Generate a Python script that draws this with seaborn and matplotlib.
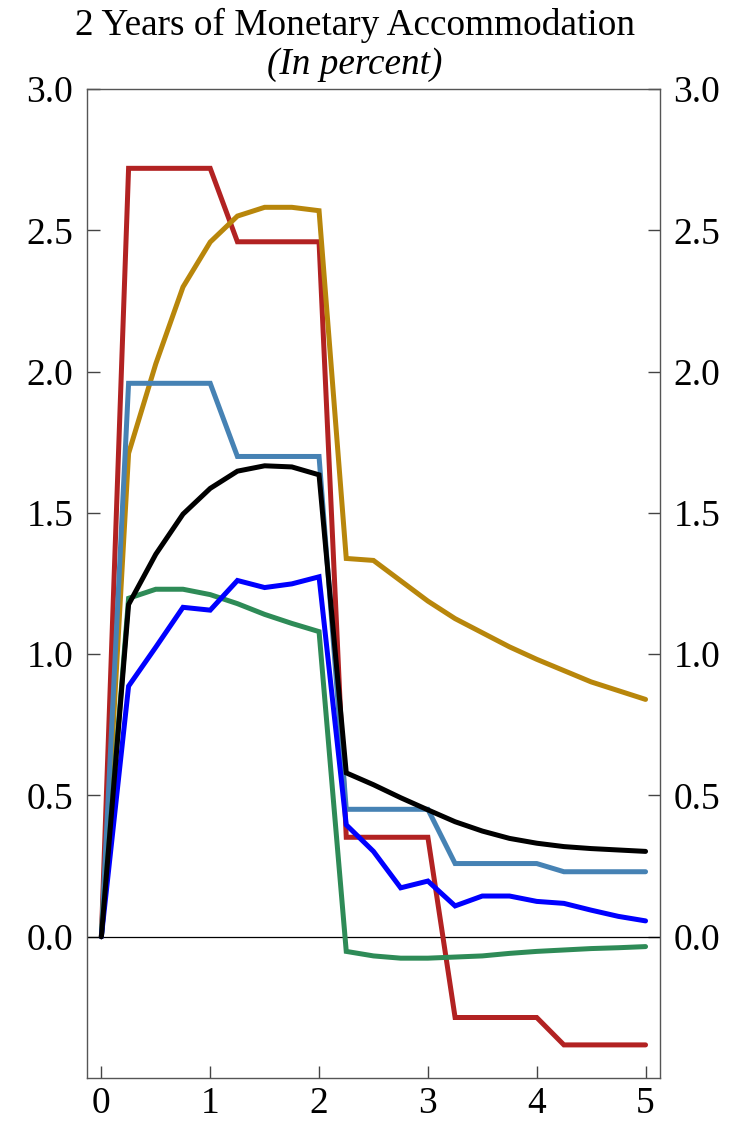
import numpy as np
import pandas as pd
import seaborn as sns
import matplotlib
matplotlib.use("Agg")
import matplotlib.pyplot as plt

x = [0, 0.25, 0.5, 0.75, 1.0, 1.25, 1.5, 1.75, 2.0, 2.25, 2.5, 2.75, 3.0,
     3.25, 3.5, 3.75, 4.0, 4.25, 4.5, 4.75, 5.0]

red = [0, 2.72, 2.72, 2.72, 2.72, 2.46, 2.46, 2.46, 2.46, 0.352, 0.352, 0.352, 0.352,
       -0.286, -0.286, -0.286, -0.286, -0.383, -0.383, -0.383, -0.383]
gold = [0, 1.711, 2.028, 2.30, 2.459, 2.551, 2.582, 2.582, 2.57, 1.339, 1.332, 1.26, 1.188,
        1.126, 1.076, 1.026, 0.982, 0.942, 0.902, 0.871, 0.84]
steel = [0, 1.959, 1.959, 1.959, 1.959, 1.70, 1.70, 1.70, 1.70, 0.451, 0.451, 0.451, 0.451,
         0.259, 0.259, 0.259, 0.259, 0.23, 0.23, 0.23, 0.23]
green = [0, 1.198, 1.23, 1.23, 1.211, 1.179, 1.141, 1.109, 1.08, -0.052, -0.068, -0.076, -0.076,
         -0.072, -0.068, -0.059, -0.052, -0.047, -0.042, -0.039, -0.035]
blue = [0, 0.887, 1.025, 1.166, 1.156, 1.261, 1.236, 1.249, 1.274, 0.396, 0.302, 0.173, 0.197,
        0.109, 0.144, 0.144, 0.125, 0.118, 0.094, 0.072, 0.056]
black = [0, 1.176, 1.354, 1.496, 1.587, 1.648, 1.667, 1.663, 1.635, 0.58, 0.538, 0.492, 0.449,
         0.407, 0.374, 0.348, 0.331, 0.319, 0.312, 0.307, 0.302]

series = [("red", red, "#B22222"), ("gold", gold, "#B8860B"), ("steel", steel, "#4682B4"),
          ("green", green, "#2E8B57"), ("blue", blue, "#0000FF"), ("black", black, "#000000")]

yticks = [0.0, 0.5, 1.0, 1.5, 2.0, 2.5, 3.0]
ytick_labels = ["0.0", "0.5", "1.0", "1.5", "2.0", "2.5", "3.0"]
xticks = [0, 1, 2, 3, 4, 5]
xtick_labels = ["0", "1", "2", "3", "4", "5"]

sns.set_theme(style="white")
plt.rcParams['font.family'] = ['Liberation Serif', 'DejaVu Serif']
plt.rcParams['text.color'] = 'black'
plt.rcParams['xtick.color'] = 'black'
plt.rcParams['ytick.color'] = 'black'

fig = plt.figure(figsize=(7.33, 11.21), dpi=100)
ax = fig.add_axes([0.119, 0.0384, 0.781, 0.882])

for name, vals, col in series:
    df = pd.DataFrame({"x": x, "y": vals})
    sns.lineplot(data=df, x="x", y="y", ax=ax, color=col, linewidth=3.6,
                 solid_capstyle="round", solid_joinstyle="miter")

ax.axhline(0, color="black", linewidth=0.9, zorder=1)
ax.set_xlim(-0.13, 5.13)
ax.set_ylim(-0.5, 3.0)
ax.set_xlabel("")
ax.set_ylabel("")
ax.set_xticks(xticks)
ax.set_xticklabels(xtick_labels)
ax.set_yticks(yticks)
ax.set_yticklabels(ytick_labels)
ax.tick_params(axis="both", direction="in", length=9, width=1, color="#444444",
               labelsize=27, labelcolor="black")
ax.tick_params(axis="y", right=True, labelright=True, left=True, labelleft=True, pad=10)
ax.tick_params(axis="x", bottom=True, top=False, pad=6)
for s in ax.spines.values():
    s.set_color("#555555")
    s.set_linewidth(1.0)
ax.grid(False)

fig.text(0.484, 0.977, "2 Years of Monetary Accommodation", ha="center", va="center",
         fontsize=26.8, color="black")
fig.text(0.484, 0.942, "(In percent)", ha="center", va="center", fontsize=26.8,
         style="italic", color="black")

fig.savefig("out.png", dpi=100)
